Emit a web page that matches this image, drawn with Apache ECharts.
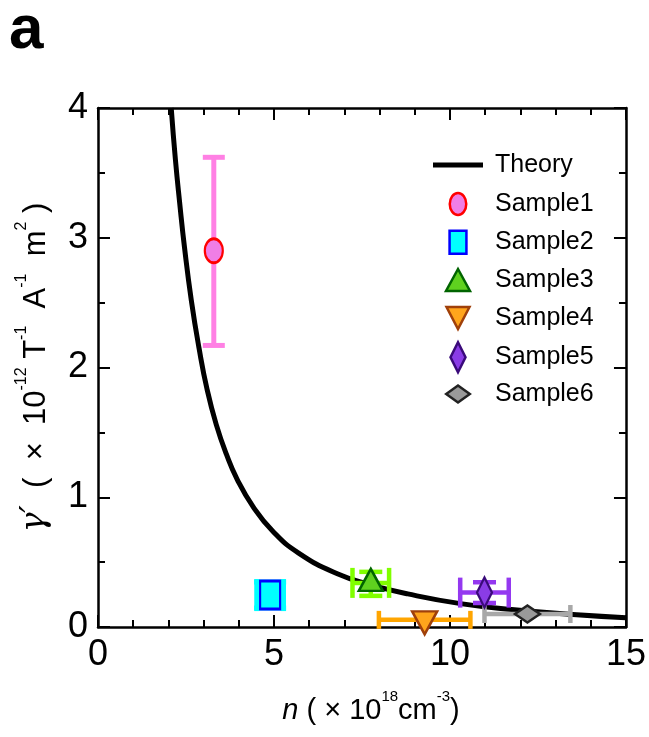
<!DOCTYPE html>
<html>
<head>
<meta charset="utf-8">
<script src="https://cdn.jsdelivr.net/npm/echarts@6/dist/echarts.min.js"></script>
<style>html,body{margin:0;padding:0;background:#fff;}#c{width:649px;height:737px;}</style>
</head>
<body>
<div id="c"></div>
<script>
// ---- data ----
var theoryN = [2.08, 2.2, 2.32, 2.46, 2.65, 2.87, 3.1, 3.36, 3.65, 3.95, 4.4, 4.96, 5.7, 6.8, 7.75, 8.8, 10.3, 11.75, 13.6, 15];
var theoryY = [4.0, 3.6, 3.27, 2.92, 2.52, 2.15, 1.83, 1.56, 1.33, 1.14, 0.93, 0.74, 0.57, 0.41, 0.325, 0.255, 0.18, 0.135, 0.095, 0.072];

var sampleNames = ['Sample1', 'Sample2', 'Sample3', 'Sample4', 'Sample5', 'Sample6'];
var sampleN = [3.29, 4.89, 7.75, 9.28, 10.98, 12.2];
var sampleY = [2.9, 0.246, 0.34, 0.055, 0.265, 0.1];
var sampleNErr = [0, 0.38, 0.52, 1.3, 0.69, 1.22];
var sampleYErrPlus = [0.72, 0.1, 0.085, 0, 0.08, 0];
var sampleYErrMinus = [0.73, 0.1, 0.1, 0, 0.08, 0];

var xTicks = [0, 5, 10, 15];
var yTicks = [0, 1, 2, 3, 4];

// ---- styles ----
var styles = [
  {sym: 'path://M0,12 A9,12 0 1,1 18,12 A9,12 0 1,1 0,12 Z', ar: 18 / 24, size: [18, 24], fill: '#f07ee6', border: '#ff0000', err: '#ff80e4', capX: 22, capY: 22, lw: 5, off: [0, 0], legH: 22},
  {sym: 'path://M0,0 L22,0 L22,30 L0,30 Z', ar: 22 / 30, size: [20, 28], fill: '#00ffff', border: '#0000ff', err: '#00ffff', capX: 32, capY: 32, lw: 5, off: [0, 0], legH: 23},
  {sym: 'path://M12,0 L24,22 L0,22 Z', ar: 24 / 22, size: [24, 22], fill: '#5fd11f', border: '#006400', err: '#80ff00', capX: 30, capY: 23, lw: 4.5, off: [0, -3], legH: 22},
  {sym: 'path://M0,0 L24,0 L12,23 Z', ar: 24 / 23, size: [25, 23], fill: '#ffa51c', border: '#a0400a', err: '#ffa500', capX: 18, capY: 18, lw: 4.5, off: [0, 3], legH: 22},
  {sym: 'path://M7.5,0 L15,15 L7.5,30 L0,15 Z', ar: 0.5, size: [15, 30], fill: '#8a3ce6', border: '#3a0a7a', err: '#9438f0', capX: 30, capY: 23, lw: 4.5, off: [0, 0], legH: 30},
  {sym: 'path://M0,9 L12.5,0 L25,9 L12.5,18 Z', ar: 25 / 18, size: [25, 17], fill: '#9a9a9a', border: '#222222', err: '#a8a8a8', capX: 18, capY: 18, lw: 4.5, off: [0, 0], legH: 17}
];
var legendCenters = [160, 199, 237, 275, 313, 351, 389];
var legendIconLeft = 433, legendIconBox = 50;
var legendPad = [5, 5, 5, 0];
var axisFont = "'Liberation Sans', Arial, sans-serif";

var chart = echarts.init(document.getElementById('c'), null, {renderer: 'canvas'});

var errData = sampleN.map(function (n, i) {
  return [n, sampleY[i], sampleNErr[i], sampleYErrPlus[i], sampleYErrMinus[i]];
});

function renderErr(params, api) {
  var i = params.dataIndex;
  var st = styles[i];
  var x = api.value(0), y = api.value(1), xe = api.value(2), yp = api.value(3), ym = api.value(4);
  var children = [];
  var ls = {stroke: st.err, lineWidth: st.lw};
  if (xe > 0) {
    var l = api.coord([x - xe, y]), r = api.coord([x + xe, y]);
    children.push({type: 'line', shape: {x1: l[0], y1: l[1], x2: r[0], y2: r[1]}, style: ls});
    children.push({type: 'line', shape: {x1: l[0], y1: l[1] - st.capX / 2, x2: l[0], y2: l[1] + st.capX / 2}, style: ls});
    children.push({type: 'line', shape: {x1: r[0], y1: r[1] - st.capX / 2, x2: r[0], y2: r[1] + st.capX / 2}, style: ls});
  }
  if (yp > 0 || ym > 0) {
    var t = api.coord([x, y + yp]), b = api.coord([x, y - ym]);
    children.push({type: 'line', shape: {x1: t[0], y1: t[1], x2: b[0], y2: b[1]}, style: ls});
    children.push({type: 'line', shape: {x1: t[0] - st.capY / 2, y1: t[1], x2: t[0] + st.capY / 2, y2: t[1]}, style: ls});
    children.push({type: 'line', shape: {x1: b[0] - st.capY / 2, y1: b[1], x2: b[0] + st.capY / 2, y2: b[1]}, style: ls});
  }
  return {type: 'group', children: children};
}

var series = [{
  name: 'Theory',
  type: 'line',
  data: theoryN.map(function (n, i) { return [n, theoryY[i]]; }),
  symbol: 'none',
  smooth: 0.5,
  lineStyle: {color: '#000', width: 5},
  itemStyle: {color: '#000'},
  z: 2
}, {
  name: 'errors',
  type: 'custom',
  renderItem: renderErr,
  data: errData,
  encode: {x: 0, y: 1},
  clip: false,
  z: 3
}];
sampleNames.forEach(function (nm, i) {
  var st = styles[i];
  series.push({
    name: nm,
    type: 'scatter',
    data: [[sampleN[i], sampleY[i]]],
    symbol: st.sym,
    symbolSize: st.size,
    symbolOffset: st.off,
    itemStyle: {color: st.fill, borderColor: st.border, borderWidth: 2.5, opacity: 1},
    z: 5
  });
});

var legendTextStyle = {fontSize: 25, fontFamily: "'Liberation Sans', Arial, sans-serif", color: '#000', padding: [0, 0, 0, 7]};
var legends = [{
  data: [{name: 'Theory', icon: 'path://M0,0 L50,0 L50,5 L0,5 Z'}],
  orient: 'vertical', left: legendIconLeft, top: legendCenters[0] - 12.5, padding: legendPad,
  itemWidth: legendIconBox, itemHeight: 5, symbolKeepAspect: true,
  textStyle: legendTextStyle, selectedMode: false
}];
sampleNames.forEach(function (nm, i) {
  var st = styles[i];
  var h = Math.max(st.legH, 25);
  var w = Math.min(legendIconBox, st.legH * st.ar);
  legends.push({
    data: [{name: nm, icon: st.sym, itemStyle: {borderColor: st.border, borderWidth: 2.5}}],
    orient: 'vertical', left: legendIconLeft + (legendIconBox - w) / 2 - 1.25, top: legendCenters[i + 1] - h / 2, padding: legendPad,
    itemWidth: legendIconBox, itemHeight: st.legH, symbolKeepAspect: true,
    textStyle: legendTextStyle, selectedMode: false
  });
});

function axisCommon(extra) {
  var base = {
    type: 'value',
    axisLine: {show: true, onZero: false, lineStyle: {color: '#000', width: 2.5}},
    axisTick: {show: true, inside: true, length: 12, lineStyle: {color: '#000', width: 2}},
    minorTick: {show: true, length: 7, lineStyle: {color: '#000', width: 2}},
    splitLine: {show: false},
    minorSplitLine: {show: false}
  };
  for (var k in extra) base[k] = extra[k];
  return base;
}

var titleFont = "'Liberation Sans', Arial, sans-serif";
var option = {
  animation: false,
  backgroundColor: '#fff',
  grid: {left: 98, right: 21, top: 108, bottom: 110, containLabel: false},
  legend: legends,
  graphic: [{
    type: 'text', left: 9, top: 0,
    style: {text: 'a', font: "bold 62px 'Liberation Sans', Arial, sans-serif", fill: '#000'}
  }],
  xAxis: [
    axisCommon({
      position: 'bottom', min: xTicks[0], max: xTicks[xTicks.length - 1], interval: xTicks[1] - xTicks[0],
      minorTick: {show: true, splitNumber: 5, length: 7, lineStyle: {color: '#000', width: 2}},
      axisLabel: {show: true, fontSize: 36, fontFamily: axisFont, color: '#000', margin: 10},
      name: '{i|n}{n| ( × 10}{s|18}{n|cm}{s|-3}{n|)}',
      nameLocation: 'middle', nameGap: 62,
      nameTextStyle: {
        padding: [0, 0, 0, 18],
        rich: {
          i: {fontSize: 29, fontStyle: 'italic', fontFamily: titleFont, color: '#000', lineHeight: 36, verticalAlign: 'bottom'},
          n: {fontSize: 29, fontFamily: titleFont, color: '#000', lineHeight: 36, verticalAlign: 'bottom'},
          s: {fontSize: 15, fontFamily: titleFont, color: '#000', lineHeight: 15, verticalAlign: 'top'}
        }
      }
    }),
    axisCommon({
      position: 'top', min: xTicks[0], max: xTicks[xTicks.length - 1], interval: xTicks[1] - xTicks[0],
      minorTick: {show: true, splitNumber: 5, length: 7, lineStyle: {color: '#000', width: 2}},
      axisLabel: {show: false}
    })
  ],
  yAxis: [
    axisCommon({
      position: 'left', min: yTicks[0], max: yTicks[yTicks.length - 1], interval: yTicks[1] - yTicks[0],
      minorTick: {show: true, splitNumber: 2, length: 7, lineStyle: {color: '#000', width: 2}},
      axisLabel: {show: true, fontSize: 36, fontFamily: axisFont, color: '#000', margin: 10},
      name: '{g|γ′}{n|  (  ×  10}{s|-12}{n| T}{s|-1}{n|  A}{s|-1}{n|  m}{s|2}{n| )}',
      nameLocation: 'middle', nameGap: 46, nameRotate: 90,
      nameTextStyle: {
        rich: {
          g: {fontSize: 33, fontStyle: 'italic', fontFamily: "'DejaVu Serif', serif", color: '#000', lineHeight: 38, verticalAlign: 'bottom'},
          n: {fontSize: 31, fontFamily: titleFont, color: '#000', lineHeight: 38, verticalAlign: 'bottom'},
          s: {fontSize: 16, fontFamily: titleFont, color: '#000', lineHeight: 16, verticalAlign: 'top'}
        }
      }
    }),
    axisCommon({
      position: 'right', min: yTicks[0], max: yTicks[yTicks.length - 1], interval: yTicks[1] - yTicks[0],
      minorTick: {show: true, splitNumber: 2, length: 7, lineStyle: {color: '#000', width: 2}},
      axisLabel: {show: false}
    })
  ],
  series: series
};
chart.setOption(option);
</script>
</body>
</html>
